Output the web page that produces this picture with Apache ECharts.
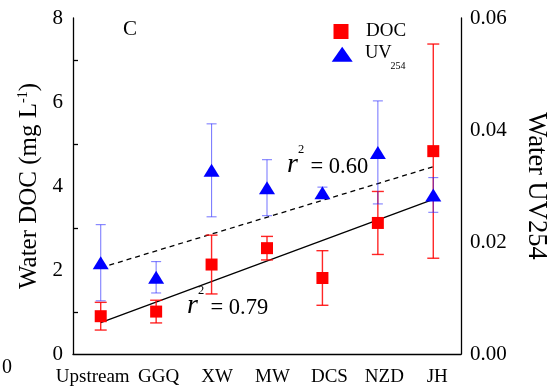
<!DOCTYPE html>
<html><head><meta charset="utf-8">
<script src="https://cdn.jsdelivr.net/npm/echarts@6/dist/echarts.min.js"></script>
<style>html,body{margin:0;padding:0;background:#fff}#c{width:557px;height:387px}</style>
</head><body><div id="c"></div>
<script>
const categories = ['Upstream', 'GGQ', 'XW', 'MW', 'DCS', 'NZD', 'JH'];
const docMean = [0.90, 1.01, 2.13, 2.52, 1.81, 3.12, 4.83];
const docSd   = [0.33, 0.27, 0.70, 0.28, 0.65, 0.75, 2.55];
const uvMean  = [0.0163, 0.0137, 0.0328, 0.0297, 0.0288, 0.0360, 0.0284];
const uvSd    = [0.0068, 0.0028, 0.0083, 0.0050, 0.0010, 0.0092, 0.0031];
const docFit  = [0.745, 3.68];     // regression line at Upstream and JH
const uvFit   = [0.0154, 0.03345];
const fitR2   = ['0.79', '0.60'];

// layout only: horizontal nudge of each category label (px)
const labelShift = [-8, 2.5, 5.5, 5.5, 7, 6.5, 4];

const FONT = '"Liberation Serif", "Times New Roman", serif';

function errRender(color, width, capHalf) {
  return function (params, api) {
    const x = api.value(0);
    const lo = api.coord([x, api.value(1)]);
    const hi = api.coord([x, api.value(2)]);
    const cx = lo[0];
    const st = { stroke: color, lineWidth: width };
    return { type: 'group', children: [
      { type: 'line', shape: { x1: cx, y1: lo[1], x2: cx, y2: hi[1] }, style: st },
      { type: 'line', shape: { x1: cx - capHalf, y1: lo[1], x2: cx + capHalf, y2: lo[1] }, style: st },
      { type: 'line', shape: { x1: cx - capHalf, y1: hi[1], x2: cx + capHalf, y2: hi[1] }, style: st }
    ]};
  };
}

const docErrData = docMean.map((m, i) => [i, m - docSd[i], m + docSd[i]]);
const uvErrData = uvMean.map((m, i) => [i, m - uvSd[i], m + uvSd[i]]);
const last = categories.length - 1;
const xData = categories.map((c, i) => {
  const d = labelShift[i] * 2;
  return { value: c, textStyle: { padding: d >= 0 ? [0, 0, 0, d] : [0, -d, 0, 0] } };
});

function r2Label(x, baseline, value) {
  return [
    { type: 'text', x: x - 1, y: baseline - 10, style: { text: 'r', font: 'italic 28px ' + FONT, fill: '#000', verticalAlign: 'middle' } },
    { type: 'text', x: x + 10, y: baseline - 25, style: { text: '2', font: '12.5px ' + FONT, fill: '#000', verticalAlign: 'middle' } },
    { type: 'text', x: x + 22.5, y: baseline - 7.5, style: { text: '= ' + value, font: '22.5px ' + FONT, fill: '#000', verticalAlign: 'middle' } }
  ];
}

const chart = echarts.init(document.getElementById('c'), null, { renderer: 'canvas' });
chart.setOption({
  animation: false,
  backgroundColor: '#fff',
  grid: { left: 73, right: 83, top: 18, bottom: 33, containLabel: false },
  xAxis: {
    type: 'category', data: xData, boundaryGap: true,
    axisLine: { lineStyle: { color: '#000', width: 1.3 } },
    axisTick: { alignWithLabel: true, inside: true, length: 6, lineStyle: { color: '#000', width: 1.3 } },
    axisLabel: { color: '#000', fontFamily: FONT, fontSize: 19, margin: 14, interval: 0, hideOverlap: false },
    splitLine: { show: false }
  },
  yAxis: [
    {
      type: 'value', min: 0, max: 8, interval: 2, position: 'left',
      name: '{a|Water DOC (mg L}{s|-1}{a|)}', nameLocation: 'middle', nameRotate: 90, nameGap: 29,
      nameTextStyle: { rich: {
        a: { fontFamily: FONT, fontSize: 25, color: '#000' },
        s: { fontFamily: FONT, fontSize: 14, color: '#000', verticalAlign: 'top' }
      } },
      axisLine: { show: true, lineStyle: { color: '#000', width: 1.3 } },
      axisTick: { inside: true, length: 8, lineStyle: { color: '#000', width: 1.3 } },
      minorTick: { show: true, splitNumber: 2, length: 5, lineStyle: { color: '#000', width: 1.3 } },
      axisLabel: { color: '#000', fontFamily: FONT, fontSize: 21, margin: 10 },
      splitLine: { show: false }
    },
    {
      type: 'value', min: 0, max: 0.06, interval: 0.02, position: 'right',
      name: 'Water UV254', nameLocation: 'middle', nameRotate: -90, nameGap: 61,
      nameTextStyle: { fontFamily: FONT, fontSize: 26.5, color: '#000' },
      axisLine: { show: true, lineStyle: { color: '#000', width: 1.3 } },
      axisTick: { inside: true, length: 7, lineStyle: { color: '#000', width: 1.3 } },
      axisLabel: { color: '#000', fontFamily: FONT, fontSize: 21, margin: 9, formatter: v => v.toFixed(2) },
      splitLine: { show: false }
    }
  ],
  series: [
    { name: 'DOC fit', type: 'line', yAxisIndex: 0, showSymbol: false, z: 3,
      data: [[0, docFit[0]], [last, docFit[1]]],
      lineStyle: { color: '#000', width: 1.3, type: 'solid' } },
    { name: 'UV fit', type: 'line', yAxisIndex: 1, showSymbol: false, z: 3,
      data: [[0, uvFit[0]], [last, uvFit[1]]],
      lineStyle: { color: '#000', width: 1.3, type: [5, 4] } },
    { name: 'DOC err', type: 'custom', yAxisIndex: 0, z: 4, renderItem: errRender('rgba(255,0,0,0.85)', 1.4, 6),
      encode: { x: 0, y: [1, 2] }, data: docErrData },
    { name: 'UV err', type: 'custom', yAxisIndex: 1, z: 4, renderItem: errRender('rgba(40,40,255,0.6)', 1.1, 5),
      encode: { x: 0, y: [1, 2] }, data: uvErrData },
    { name: 'DOC', type: 'scatter', yAxisIndex: 0, symbol: 'rect', symbolSize: 12, z: 5,
      itemStyle: { color: '#ff0000', opacity: 1 }, data: docMean },
    { name: 'UV254', type: 'scatter', yAxisIndex: 1, symbol: 'triangle', symbolSize: [16, 13], z: 6,
      itemStyle: { color: '#0000ff', opacity: 1 }, data: uvMean }
  ],
  graphic: [
    { type: 'text', left: 123, top: 19, style: { text: 'C', font: '21px ' + FONT, fill: '#000' } },
    // legend
    { type: 'rect', shape: { x: 333.5, y: 24, width: 15, height: 15 }, style: { fill: '#ff0000' } },
    { type: 'text', x: 366, y: 31.5, style: { text: 'DOC', font: '19px ' + FONT, fill: '#000', verticalAlign: 'middle' } },
    { type: 'polygon', shape: { points: [[342.2, 46.7], [352.7, 61.7], [331.7, 61.7]] }, style: { fill: '#0000ff' } },
    { type: 'text', x: 365, y: 53.5, style: { text: 'UV', font: '18.5px ' + FONT, fill: '#000', verticalAlign: 'middle' } },
    { type: 'text', x: 390.5, y: 66.5, style: { text: '254', font: '10px ' + FONT, fill: '#000', verticalAlign: 'middle' } },
    // r² labels
    ...r2Label(188, 316, fitR2[0]),
    ...r2Label(288, 174.5, fitR2[1]),
    // fragment of neighbouring panel
    { type: 'text', left: 2, top: 358, style: { text: '0', font: '20px ' + FONT, fill: '#000' } }
  ]
});
</script></body></html>
